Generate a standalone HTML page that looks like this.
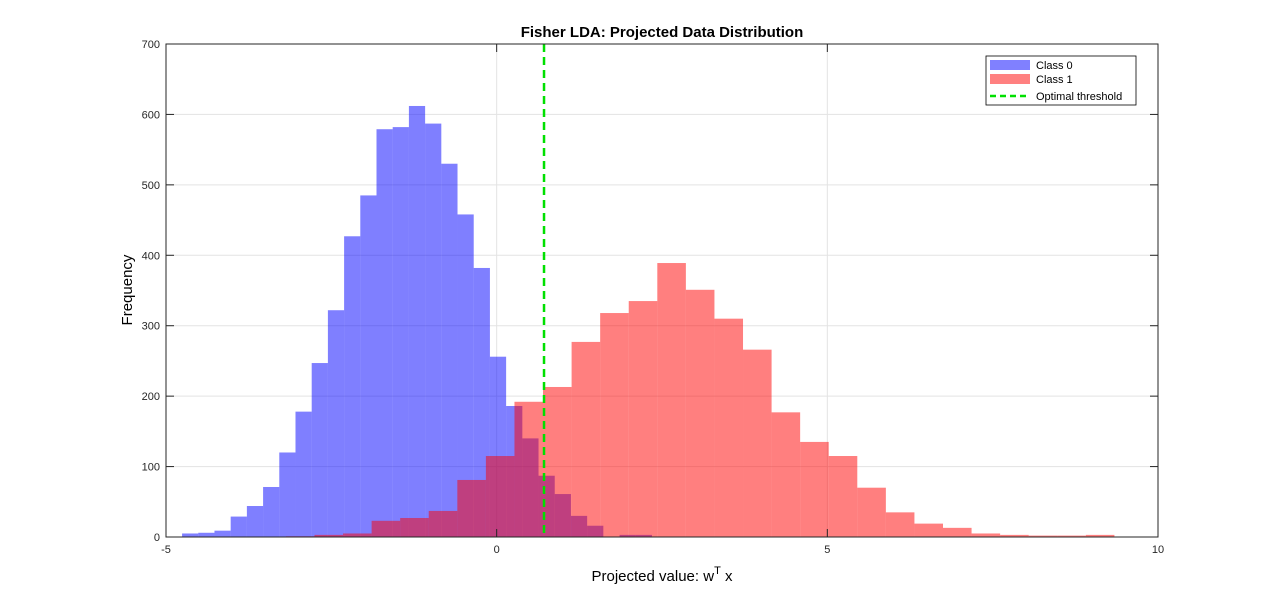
<!DOCTYPE html>
<html><head><meta charset="utf-8"><style>
body{margin:0;background:#fff;}
svg text{font-family:"Liberation Sans",sans-serif;}
</style></head><body>
<svg id="chart" width="1280" height="603" viewBox="0 0 1280 603" xmlns="http://www.w3.org/2000/svg">
<rect width="1280" height="603" fill="#fff"/>
<text x="662" y="37" text-anchor="middle" font-size="15" font-weight="bold" fill="#000">Fisher LDA: Projected Data Distribution</text>
<g id="grid"></g>
<g id="bars"></g>
<g id="axes"></g>
<text transform="translate(132,290) rotate(-90)" text-anchor="middle" font-size="15" fill="#000">Frequency</text>
<text x="662" y="581" text-anchor="middle" font-size="15" fill="#000">Projected value: w<tspan dy="-7" font-size="11">T</tspan><tspan dy="7"> x</tspan></text>
<g>
<rect x="986" y="56" width="150" height="49" fill="#fff" stroke="#000" stroke-width="0.8"/>
<rect x="990" y="60" width="40" height="10" fill="#8080ff"/>
<text x="1036" y="69" font-size="11">Class 0</text>
<rect x="990" y="74" width="40" height="10" fill="#ff8080"/>
<text x="1036" y="83" font-size="11">Class 1</text>
<line x1="990" y1="96" x2="1030" y2="96" stroke="#00e000" stroke-width="2.5" stroke-dasharray="6,4"/>
<text x="1036" y="100" font-size="11">Optimal threshold</text>
</g>
</svg>
<script>
const xTicks = [-5, 0, 5, 10];
const yTicks = [0, 100, 200, 300, 400, 500, 600, 700];
const class0Start = -4.757;
const class0Width = 0.245;
const class0Counts = [5,6,9,29,44,71,120,178,247,322,427,485,579,582,612,587,530,458,382,256,186,140,87,61,30,16,0,3,3];
const class1Start = -3.187;
const class1Width = 0.432;
const class1Counts = [1,3,5,23,27,37,81,115,192,213,277,318,335,389,351,310,266,177,135,115,70,35,19,13,5,3,2,2,3];
const threshold = 0.716;

const L=166,R=1158,T=44,B=537;
const xs=v=>L+(v-(-5))/15*(R-L);
const ys=v=>B-v/700*(B-T);
const NS="http://www.w3.org/2000/svg";
function mk(tag,attrs,parent){const e=document.createElementNS(NS,tag);for(const k in attrs)e.setAttribute(k,attrs[k]);parent.appendChild(e);return e;}
const grid=document.getElementById('grid'),bars=document.getElementById('bars'),axes=document.getElementById('axes');
xTicks.forEach(t=>{const l=mk('line',{x1:xs(t),x2:xs(t),y1:T,y2:B,stroke:'#e3e3e3','stroke-width':1},grid);

});
yTicks.forEach(t=>{const l=mk('line',{x1:L,x2:R,y1:ys(t),y2:ys(t),stroke:'#e3e3e3','stroke-width':1},grid);

});
class0Counts.forEach((c,i)=>{if(!c)return;const x0=xs(class0Start+i*class0Width),x1=xs(class0Start+(i+1)*class0Width);
const r=mk('rect',{x:x0,y:ys(c),width:x1-x0,height:ys(0)-ys(c),fill:'#0000ff','fill-opacity':0.5},bars);

});
class1Counts.forEach((c,i)=>{if(!c)return;const x0=xs(class1Start+i*class1Width),x1=xs(class1Start+(i+1)*class1Width);
const r=mk('rect',{x:x0,y:ys(c),width:x1-x0,height:ys(0)-ys(c),fill:'#ff0000','fill-opacity':0.5},bars);

});
const th=mk('line',{x1:xs(threshold),x2:xs(threshold),y1:T,y2:B,stroke:'#00e000','stroke-width':2.5,'stroke-dasharray':'8,5'},bars);


const box=mk('rect',{x:L,y:T,width:R-L,height:B-T,fill:'none',stroke:'#262626','stroke-width':1},axes);


xTicks.forEach(t=>{mk('line',{x1:xs(t),x2:xs(t),y1:B,y2:B-8,stroke:'#262626'},axes);mk('line',{x1:xs(t),x2:xs(t),y1:T,y2:T+8,stroke:'#262626'},axes);
const tx=mk('text',{x:xs(t),y:B+16,'text-anchor':'middle','font-size':11,fill:'#262626'},axes);tx.textContent=t;

});
yTicks.forEach(t=>{mk('line',{x1:L,x2:L+8,y1:ys(t),y2:ys(t),stroke:'#262626'},axes);mk('line',{x1:R,x2:R-8,y1:ys(t),y2:ys(t),stroke:'#262626'},axes);
const tx=mk('text',{x:L-6,y:ys(t)+4,'text-anchor':'end','font-size':11,fill:'#262626'},axes);tx.textContent=t;

});
</script>
</body></html>
